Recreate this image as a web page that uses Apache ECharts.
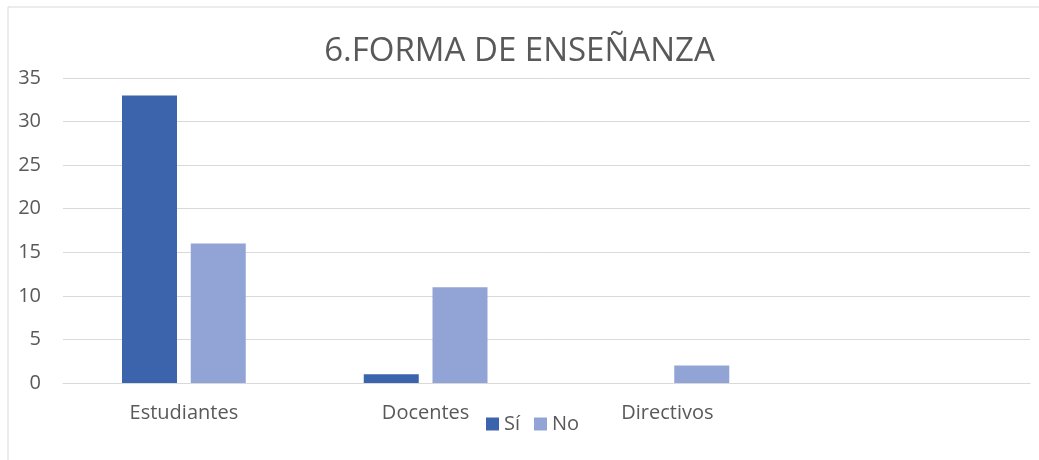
<!DOCTYPE html>
<html>
<head>
<meta charset="utf-8">
<script src="https://cdn.jsdelivr.net/npm/echarts@6/dist/echarts.min.js"></script>
<style>
  html, body { margin: 0; padding: 0; background: #fff; }
  #chart { width: 1039px; height: 460px; }
</style>
</head>
<body>
<div id="chart"></div>
<script>
  const categories = ['Estudiantes', 'Docentes', 'Directivos', ''];
  const valuesSi = [33, 1, 0, null];
  const valuesNo = [16, 11, 2, null];
  const yTicks = [0, 5, 10, 15, 20, 25, 30, 35];

  const textColor = '#595959';
  const fontFamily = '"Open Sans", "Liberation Sans", sans-serif';

  const chart = echarts.init(document.getElementById('chart'));

  const option = {
    animation: false,
    textStyle: { fontFamily: fontFamily },
    graphic: [
      {
        type: 'rect',
        shape: { x: 8, y: 7, width: 1100, height: 500 },
        style: { fill: 'none', stroke: '#d9d9d9', lineWidth: 1 },
        silent: true,
      },
    ],
    title: {
      text: '6.FORMA DE ENSEÑANZA',
      left: 'center',
      top: 30,
      textStyle: {
        color: textColor,
        fontSize: 33,
        fontWeight: 'normal',
        fontFamily: fontFamily,
      },
    },
    legend: {
      data: ['Sí', 'No'],
      left: 481,
      top: 409,
      itemWidth: 13,
      itemHeight: 13,
      itemGap: 14,
      icon: 'rect',
      textStyle: { color: textColor, fontSize: 20 },
    },
    grid: {
      left: 63,
      right: 9,
      top: 78,
      bottom: 77,
    },
    xAxis: {
      type: 'category',
      data: categories,
      axisLine: { lineStyle: { color: '#d9d9d9', width: 1 } },
      axisTick: { show: false },
      axisLabel: { color: textColor, fontSize: 20, margin: 20 },
    },
    yAxis: {
      type: 'value',
      min: yTicks[0],
      max: yTicks[yTicks.length - 1],
      interval: 5,
      axisLine: { show: false },
      axisTick: { show: false },
      axisLabel: { color: textColor, fontSize: 20, margin: 22 },
      splitLine: { lineStyle: { color: '#d9d9d9', width: 1 } },
    },
    series: [
      {
        name: 'Sí',
        type: 'bar',
        data: valuesSi,
        barWidth: 55,
        barGap: '25%',
        itemStyle: { color: '#3c64ad' },
      },
      {
        name: 'No',
        type: 'bar',
        data: valuesNo,
        barWidth: 55,
        barGap: '25%',
        itemStyle: { color: '#91a4d5' },
      },
    ],
  };

  chart.setOption(option);
</script>
</body>
</html>
